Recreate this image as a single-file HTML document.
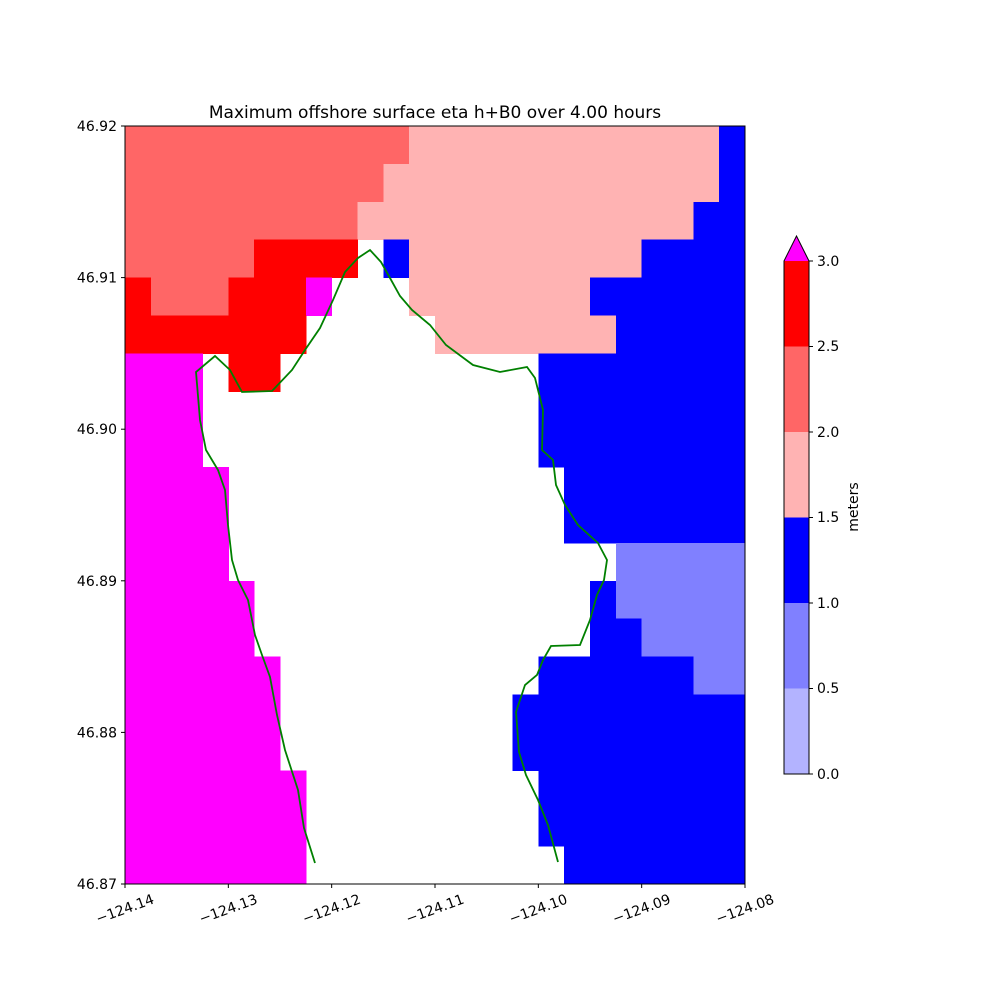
<!DOCTYPE html>
<html><head><meta charset="utf-8"><style>
body{margin:0;background:#fff}
text{font-family:"DejaVu Sans","Liberation Sans",sans-serif;fill:#000}
</style></head><body>
<svg width="1000" height="1000" viewBox="0 0 1000 1000" xmlns="http://www.w3.org/2000/svg">
<rect width="1000" height="1000" fill="#fff"/>
<g id="cells" shape-rendering="crispEdges"></g>
<polyline fill="none" stroke="#008000" stroke-width="1.8" points="315,863 304,828 298,790 285,750 277,715 270,677 262,655 255,635 248,600 238,580 232,560 228,525 225,490 218,470 206,450 200,420 196,372 215,356 230,370 242,392 272,391 292,370 305,350 320,328 333,300 345,272 358,258 370,250 381,262 390,278 400,296 412,310 430,325 446,345 473,365 500,372 527,367 535,378 543,410 542,450 553,460 556,485 565,505 578,525 598,543 607,560 604,580 597,595 590,620 580,645 551,646 543,660 537,675 525,685 516,712 519,752 526,775 538,800 548,825 558,862"/>
<rect x="125" y="126" width="620" height="758" fill="none" stroke="#000" stroke-width="1"/>
<text x="435" y="118" font-size="17" text-anchor="middle">Maximum offshore surface eta h+B0 over 4.00 hours</text>
<g id="ticks" font-size="14"></g>
<g shape-rendering="crispEdges">
<rect x="784" y="688.5" width="25" height="85.5" fill="#b3b3ff"/>
<rect x="784" y="603" width="25" height="85.5" fill="#8080ff"/>
<rect x="784" y="517.5" width="25" height="85.5" fill="#0000ff"/>
<rect x="784" y="432" width="25" height="85.5" fill="#ffb3b3"/>
<rect x="784" y="346.5" width="25" height="85.5" fill="#ff6666"/>
<rect x="784" y="261" width="25" height="85.5" fill="#ff0000"/>
</g>
<polygon points="784,261 796.5,236 809,261" fill="#ff00ff"/>
<polygon points="784,774 784,261 796.5,236 809,261 809,774" fill="none" stroke="#000" stroke-width="1"/>
<g font-size="14">
<line x1="809" y1="774" x2="813" y2="774" stroke="#000"/><text x="817" y="779">0.0</text>
<line x1="809" y1="688.5" x2="813" y2="688.5" stroke="#000"/><text x="817" y="693">0.5</text>
<line x1="809" y1="603" x2="813" y2="603" stroke="#000"/><text x="817" y="608">1.0</text>
<line x1="809" y1="517.5" x2="813" y2="517.5" stroke="#000"/><text x="817" y="522">1.5</text>
<line x1="809" y1="432" x2="813" y2="432" stroke="#000"/><text x="817" y="437">2.0</text>
<line x1="809" y1="346.5" x2="813" y2="346.5" stroke="#000"/><text x="817" y="351">2.5</text>
<line x1="809" y1="261" x2="813" y2="261" stroke="#000"/><text x="817" y="266">3.0</text>
<text transform="translate(858,507) rotate(-90)" text-anchor="middle">meters</text>
</g>
</svg>
<script>
const C={S:"#ff6666",P:"#ffb3b3",B:"#0000ff",R:"#ff0000",M:"#ff00ff",L:"#8080ff"};
const rows=[
[["S",0,10],["P",11,22],["B",23,23]],
[["S",0,9],["P",10,22],["B",23,23]],
[["S",0,8],["P",9,21],["B",22,23]],
[["S",0,4],["R",5,8],["B",10,10],["P",11,19],["B",20,23]],
[["R",0,0],["S",1,3],["R",4,6],["M",7,7],["P",11,17],["B",18,23]],
[["R",0,6],["P",12,18],["B",19,23]],
[["M",0,2],["R",4,5],["B",16,23]],
[["M",0,2],["B",16,23]],
[["M",0,2],["B",16,23]],
[["M",0,3],["B",17,23]],
[["M",0,3],["B",17,23]],
[["M",0,3],["L",19,23]],
[["M",0,4],["B",18,18],["L",19,23]],
[["M",0,4],["B",18,19],["L",20,23]],
[["M",0,5],["B",16,21],["L",22,23]],
[["M",0,5],["B",15,23]],
[["M",0,5],["B",15,23]],
[["M",0,6],["B",16,23]],
[["M",0,6],["B",16,23]],
[["M",0,6],["B",17,23]]];
const cw=620/24,rh=758/20,ns="http://www.w3.org/2000/svg";
const g=document.getElementById("cells");
rows.forEach((r,j)=>r.forEach(([c,a,b])=>{const e=document.createElementNS(ns,"rect");
e.setAttribute("x",125+a*cw);e.setAttribute("y",126+j*rh);e.setAttribute("width",(b-a+1)*cw+0.5);e.setAttribute("height",rh+0.5);e.setAttribute("fill",C[c]);g.appendChild(e);}));
const t=document.getElementById("ticks");
const xl=["\u2212124.14","\u2212124.13","\u2212124.12","\u2212124.11","\u2212124.10","\u2212124.09","\u2212124.08"];
xl.forEach((s,i)=>{const x=125+i*620/6;
t.insertAdjacentHTML("beforeend",`<line x1="${x}" y1="884" x2="${x}" y2="888" stroke="#000"/><text transform="translate(${x+30},${903}) rotate(-20)" text-anchor="end">${s}</text>`);});
const yl=["46.87","46.88","46.89","46.90","46.91","46.92"];
yl.forEach((s,i)=>{const y=884-i*758/5;
t.insertAdjacentHTML("beforeend",`<line x1="121" y1="${y}" x2="125" y2="${y}" stroke="#000"/><text x="117" y="${y+5}" text-anchor="end">${s}</text>`);});
</script>
</body></html>
